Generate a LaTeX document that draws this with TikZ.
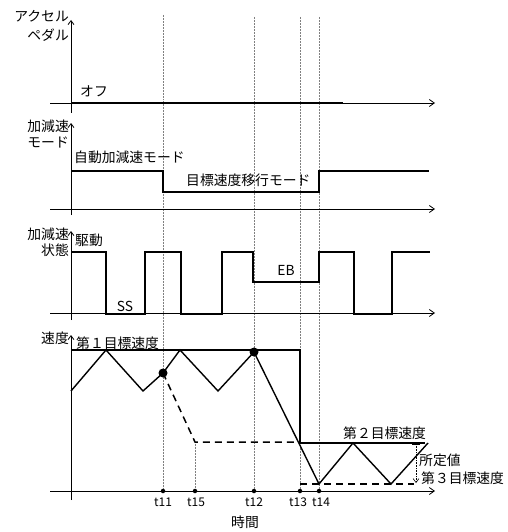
\documentclass[tikz,border=0pt]{standalone}
\usepackage{fontspec}
\setmainfont{Noto Sans CJK JP}
\usetikzlibrary{arrows.meta}
\begin{document}
\begin{tikzpicture}[x=1pt,y=-1pt,
  axis/.style={line width=0.8pt,-{Straight Barb[length=5pt,width=7pt]}},
  vaxis/.style={line width=0.8pt,-{Straight Barb[length=4pt,width=6pt]}},
  sig/.style={line width=1.7pt,line join=miter},
  zig/.style={line width=1.4pt,line join=miter},
  guide/.style={line width=0.5pt,gray,densely dotted},
  dsh/.style={line width=1.5pt,dash pattern=on 7pt off 5pt},
  lbl/.style={font=\fontsize{13.8}{15}\selectfont,inner sep=0pt},
  tl/.style={font=\fontsize{12}{13}\selectfont,inner sep=0pt,anchor=north},
  bigdot/.style={circle,fill=black,inner sep=0pt,minimum size=9pt},
  smalldot/.style={circle,fill=black,inner sep=0pt,minimum size=4.5pt}]
\useasboundingbox (0,0) rectangle (507,532);
% time guide lines
\draw[guide] (163,15) -- (163,491);
\draw[guide] (254,17) -- (254,491);
\draw[guide] (300,17) -- (300,491);
\draw[guide] (319,17) -- (319,491);
\draw[guide] (195,442) -- (195,491);
% ---------- panel 1: accelerator pedal
\draw[vaxis] (71,113) -- (71,20);
\draw[axis] (50,103) -- (435,103);
\draw[line width=1.4pt] (71,103) -- (343,103);
\node[lbl,anchor=east] (p1a) at (69,16) {アクセル};
\node[lbl,anchor=east] (p1b) at (69,35) {ペダル};
\node[lbl,anchor=west] (off) at (80,91) {オフ};
% ---------- panel 2: mode
\draw[vaxis] (71,215) -- (71,123);
\draw[axis] (50,209) -- (435,209);
\draw[sig] (71,171) -- (163,171) -- (163,192) -- (319,192) -- (319,171) -- (429,171);
\node[lbl,anchor=east] (p2a) at (69,126) {加減速};
\node[lbl,anchor=east] (p2b) at (69,142) {モード};
\node[lbl,anchor=west] (auto) at (74,157) {自動加減速モード};
\node[lbl,anchor=west] (trans) at (186,180) {目標速度移行モード};
% ---------- panel 3: accel/decel state
\draw[vaxis] (71,320) -- (71,231);
\draw[axis] (50,313) -- (435,313);
\draw[sig] (71,252) -- (106,252) -- (106,314) -- (145,314) -- (145,252) -- (181,252)
  -- (181,314) -- (222,314) -- (222,252) -- (253,252) -- (253,282) -- (319,282)
  -- (319,252) -- (354,252) -- (354,314) -- (392,314) -- (392,252) -- (430,252);
\node[lbl,anchor=east] (p3a) at (69,234) {加減速};
\node[lbl,anchor=east] (p3b) at (69,250) {状態};
\node[lbl,anchor=west] (drv) at (75,240) {駆動};
\node[lbl] (ss) at (125,306) {SS};
\node[lbl] (eb) at (286,270) {EB};
% ---------- panel 4: speed
\draw[vaxis] (71,500) -- (71,335);
\draw[axis] (50,491) -- (435,491);
\node[lbl,anchor=east] (p4a) at (69,338) {速度};
% target speeds
\draw[sig] (71,350) -- (300,350) -- (300,443) -- (425,443);
\draw[dsh] (300,484) -- (414,484);
% dashed alternative
\coordinate (d1) at (195,442);
\draw[dsh] (163,373) -- (d1) -- (300,442);
% zigzag
\node[bigdot] (c1) at (163,373) {};
\node[bigdot] (c2) at (254,352) {};
\draw[zig] (71,391) -- (106,350) -- (143,391) -- (c1.center) -- (180,350) -- (218,391)
  -- (c2.center) -- (319,484) -- (353,443) -- (391,484) -- (428,443);
% predetermined value arrow
\draw[line width=0.6pt,densely dotted,-{Straight Barb[length=4pt,width=6pt]}] (416,444) -- (416,483);
\draw[line width=0.6pt] (412,444) -- (420,444);
\node[lbl,anchor=west] (t2) at (343,433) {第２目標速度};
\node[lbl,anchor=west] (pv) at (419,460) {所定値};
\node[lbl,anchor=west] (t3) at (421,478) {第３目標速度};
\node[lbl,anchor=west] (t1) at (76,343) {第１目標速度};
% time ticks
\foreach \n/\x in {t11/163,t15/195,t12/254,t13/300,t14/319}{
  \node[smalldot] (dot\n) at (\x,491) {};
}
\node[tl] (lt11) at (163,498) {t11};
\node[tl] (lt15) at (196,498) {t15};
\node[tl] (lt12) at (254,498) {t12};
\node[tl] (lt13) at (298,498) {t13};
\node[tl] (lt14) at (321,498) {t14};
\node[lbl] (time) at (245,522) {時間};
\end{tikzpicture}
\end{document}
